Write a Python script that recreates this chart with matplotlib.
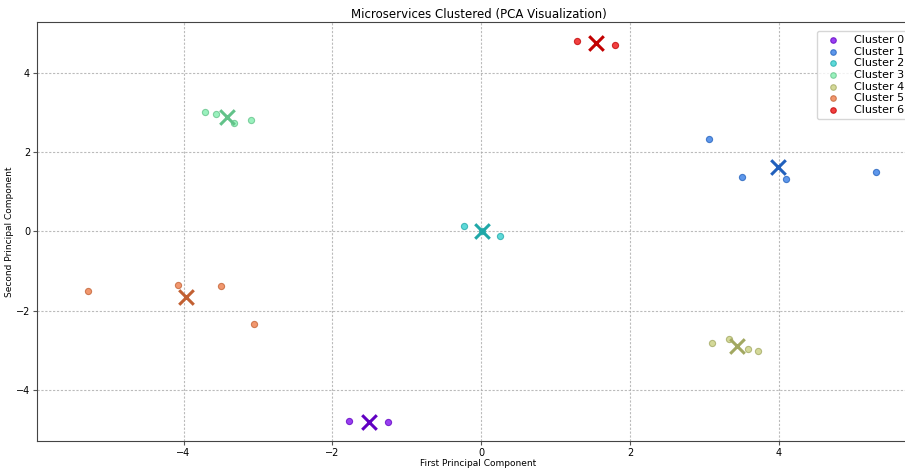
import numpy as np
import matplotlib
matplotlib.use("Agg")
import matplotlib.pyplot as plt

# PCA coordinates
cluster_names = ["Cluster 0", "Cluster 1", "Cluster 2", "Cluster 3",
                 "Cluster 4", "Cluster 5", "Cluster 6"]
pc1 = [
    [-1.77, -1.25],
    [3.06, 3.51, 4.10, 5.31],
    [-0.23, 0.26, 0.01],
    [-3.71, -3.56, -3.32, -3.09],
    [3.10, 3.33, 3.59, 3.72],
    [-5.28, -4.07, -3.49, -3.05],
    [1.29, 1.80],
]
pc2 = [
    [-4.79, -4.81],
    [2.32, 1.36, 1.31, 1.49],
    [0.13, -0.13, 0.0],
    [3.02, 2.95, 2.72, 2.80],
    [-2.82, -2.72, -2.97, -3.02],
    [-1.51, -1.36, -1.39, -2.34],
    [4.79, 4.71],
]

colors = plt.cm.rainbow(np.linspace(0, 1, len(cluster_names)))
colors[:, :3] = colors[:, :3] * 0.93

fig = plt.figure(figsize=(9.05, 4.68), dpi=100)
ax = fig.add_axes([37 / 905, 27 / 468, 883 / 905, 419 / 468])

for i, name in enumerate(cluster_names):
    xs = np.array(pc1[i])
    ys = np.array(pc2[i])
    edge = colors[i].copy()
    edge[:3] = edge[:3] * 0.82
    ax.scatter(xs, ys, color=colors[i], s=20, alpha=0.75,
               edgecolors=edge, linewidths=0.8, label=name, zorder=3)
    # 中心点
    ax.scatter(xs.mean(), ys.mean(), marker="x", s=110, linewidths=2.2,
               color=edge, zorder=4)

ax.set_xlim(-5.97, 5.9)
ax.set_ylim(-5.29, 5.28)
ax.set_xticks([-4, -2, 0, 2, 4])
ax.set_yticks([-4, -2, 0, 2, 4])
ax.tick_params(labelsize=7, length=3, pad=2, color="#555555")
for s in ax.spines.values():
    s.set_color("#444444")
ax.grid(True, linestyle=(0, (2, 1.5)), color="#aaaaaa", alpha=0.8, linewidth=0.8)

ax.set_title("Microservices Clustered (PCA Visualization)", fontsize=8.5, pad=3)
ax.set_xlabel("First Principal Component", fontsize=6.5, labelpad=1)
ax.set_ylabel("Second Principal Component", fontsize=6.5, labelpad=1)

ax.legend(loc="upper right", fontsize=8, handletextpad=0.9,
          labelspacing=0.15, borderpad=0.4, markerscale=0.9,
          bbox_to_anchor=(914 / 905, 1 - 25 / 468),
          bbox_transform=fig.transFigure)

fig.savefig("out.png", dpi=100)
